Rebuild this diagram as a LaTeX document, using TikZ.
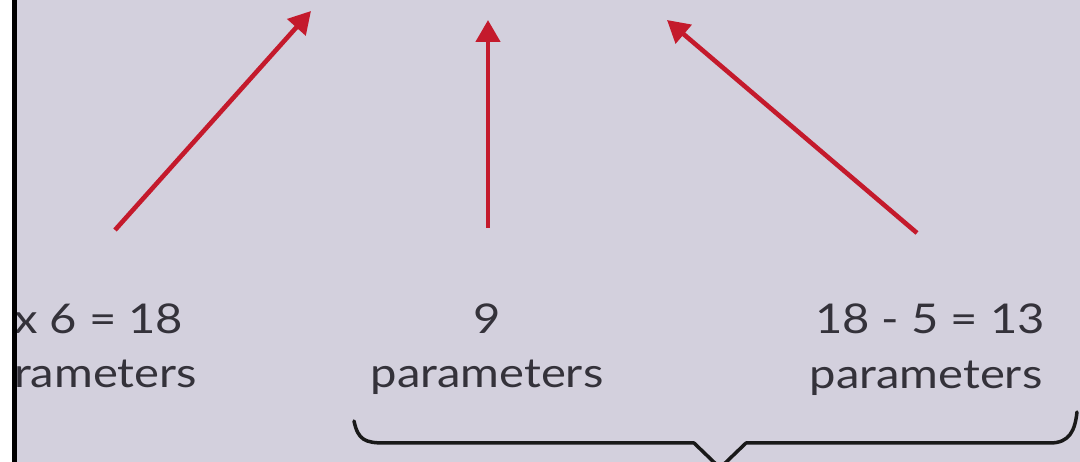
\documentclass[tikz,border=0pt]{standalone}
\usepackage{fontspec}
\setmainfont{Lato}
\usetikzlibrary{arrows.meta}
\definecolor{bgcol}{HTML}{D3D0DD}
\definecolor{arrowred}{HTML}{C41A2C}
\definecolor{txtcol}{HTML}{34323A}
\newcommand{\wide}[1]{\scalebox{1.15}[1]{#1}}
\tikzset{
  redarrow/.style={draw=arrowred, line width=4.6pt, -{Triangle[length=22pt,width=24pt]}},
  label/.style={text=txtcol, inner sep=0pt, font=\fontsize{41}{48}\selectfont},
  bracestyle/.style={draw=black!90, line width=3.5pt, line cap=round, line join=round}
}
\begin{document}
\begin{tikzpicture}[x=1pt,y=-1pt]
\useasboundingbox (0,0) rectangle (1080,462);
\fill[bgcol] (0,0) rectangle (1080,462);
\fill[white] (0,0) rectangle (12,462);

% arrow endpoints
\coordinate (t1) at (115,230);
\coordinate (h1) at (311,11);
\coordinate (t2) at (488,228);
\coordinate (h2) at (488,20);
\coordinate (t3) at (917,233);
\coordinate (h3) at (667,20);

\draw[redarrow] (t1) -- (h1);
\draw[redarrow] (t2) -- (h2);
\draw[redarrow] (t3) -- (h3);

% labels
\node[label, anchor=base west] (l1) at (14,334) {\wide{x 6 = 18}};
\node[label, anchor=base west] (l2) at (14,388) {\wide{rameters}};
\node[label, anchor=base] (m1) at (487,334) {\wide{9}};
\node[label, anchor=base] (m2) at (487,388) {\wide{parameters}};
\node[label, anchor=base] (r1) at (930,334) {\wide{18 - 5 = 13}};
\node[label, anchor=base] (r2) at (926,389) {\wide{parameters}};

\fill[black] (12,0) rectangle (17,462);

% brace
\coordinate (bl) at (354,421);
\coordinate (br) at (1077,412);
\coordinate (tip) at (720,468);
\begin{scope}
\clip (0,0) rectangle (1080,462);
\draw[bracestyle] (bl) .. controls (358,440) and (365,443) .. (385,443)
  -- (694,443) -- (tip) -- (746,443) -- (1050,443)
  .. controls (1070,443) and (1075,430) .. (br);
\end{scope}
\end{tikzpicture}
\end{document}
